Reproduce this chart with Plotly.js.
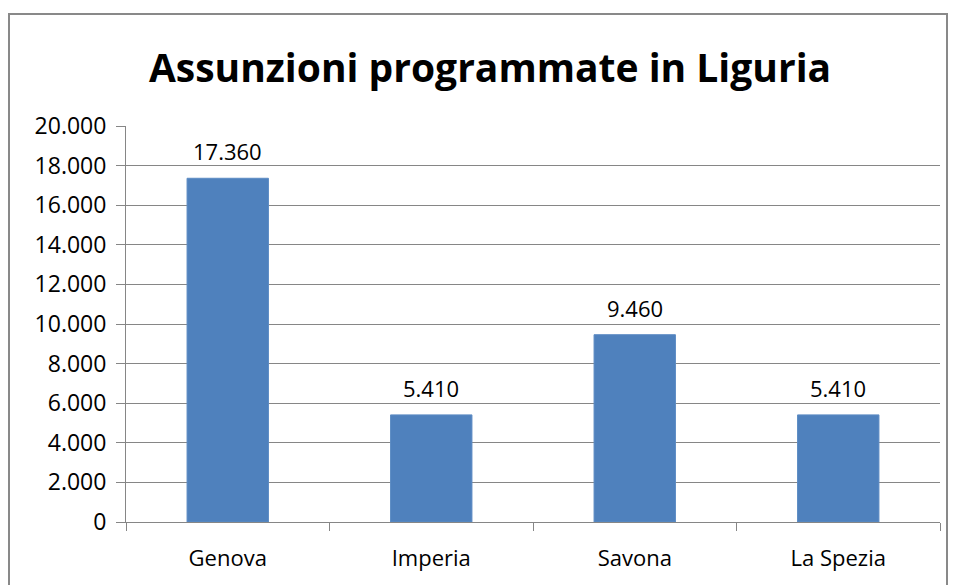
<!DOCTYPE html>
<html>
<head>
<meta charset="utf-8">
<script src="https://cdn.plot.ly/plotly-3.0.1.min.js"></script>
<style>html,body{margin:0;padding:0;background:#fff;}#chart{width:956px;height:585px;}</style>
</head>
<body>
<div id="chart"></div>
<script>
const categories = ["Genova", "Imperia", "Savona", "La Spezia"];
const values = [17360, 5410, 9460, 5410];
const yTicks = [0, 2000, 4000, 6000, 8000, 10000, 12000, 14000, 16000, 18000, 20000];
const titleText = "Assunzioni programmate in Liguria";

function fmt(n) {
  return String(n).replace(/\B(?=(\d{3})+(?!\d))/g, ".");
}

const W = 956, H = 585;
const L = 126, R = 16, T = 126, B = 63;
const pw = W - L - R, ph = H - T - B;
const gray = "#868686";
const font = "Open Sans, Liberation Sans, sans-serif";

const trace = {
  type: "bar",
  x: categories,
  y: values,
  marker: { color: "#4F81BD", line: { color: "#5d8cc4", width: 1 } },
  hoverinfo: "skip"
};

const annotations = categories.map((c, i) => ({
  x: c, y: values[i], xref: "x", yref: "y",
  text: fmt(values[i]), showarrow: false,
  yanchor: "bottom", yshift: 10,
  font: { family: font, size: 22, color: "#000" }
}));

const layout = {
  width: W, height: H,
  margin: { l: L, r: R, t: T, b: B, pad: 0 },
  paper_bgcolor: "#fff", plot_bgcolor: "#fff",
  separators: ",.",
  showlegend: false,
  bargap: 0.6,
  title: {
    text: "<b>" + titleText + "</b>",
    font: { family: font, size: 39, color: "#000" },
    xref: "container", yref: "container",
    x: 490 / W, xanchor: "center",
    y: 1 - 68 / H, yanchor: "middle"
  },
  xaxis: {
    type: "category",
    tickson: "boundaries",
    ticks: "outside", ticklen: 8, tickcolor: gray, tickwidth: 1,
    showline: true, linecolor: gray, linewidth: 1,
    showgrid: false, zeroline: false,
    ticklabelstandoff: 17,
    tickfont: { family: font, size: 22, color: "#000" },
    fixedrange: true
  },
  yaxis: {
    range: [0, 20000],
    tickvals: yTicks,
    ticktext: yTicks.map(fmt),
    ticks: "outside", ticklen: 9, tickcolor: gray, tickwidth: 1,
    showline: true, linecolor: gray, linewidth: 1,
    showgrid: true, gridcolor: gray, gridwidth: 1,
    zeroline: false,
    ticklabelstandoff: 5,
    tickfont: { family: font, size: 23, color: "#000" },
    fixedrange: true
  },
  annotations: annotations,
  shapes: [{
    type: "rect", xref: "paper", yref: "paper", layer: "below",
    x0: (9 - L) / pw, x1: (947 - L) / pw,
    y0: (H - B - 620) / ph, y1: (H - B - 14) / ph,
    line: { color: "#898989", width: 2 }, fillcolor: "rgba(0,0,0,0)"
  }]
};

Plotly.newPlot("chart", [trace], layout, { displayModeBar: false, staticPlot: true });
</script>
</body>
</html>
